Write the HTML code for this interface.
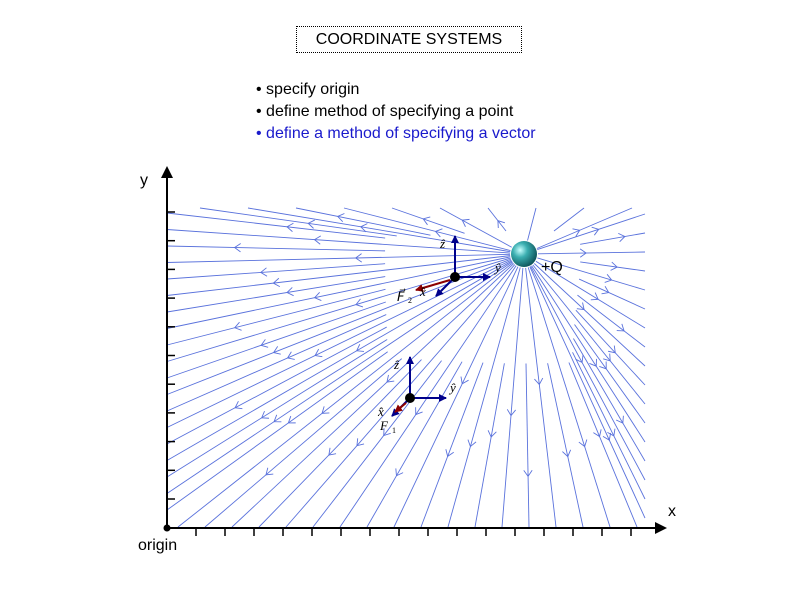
<!DOCTYPE html>
<html><head><style>
body{margin:0;width:800px;height:600px;background:#fff;overflow:hidden;font-family:"Liberation Sans",sans-serif;}
.t{position:absolute;left:296px;top:26px;width:224px;height:25px;border:1px dotted #000;font-size:16px;text-align:center;line-height:25px;}
.b{position:absolute;left:256px;font-size:16px;line-height:22px;}
</style></head><body>
<div class="t">COORDINATE SYSTEMS</div>
<div class="b" style="top:79px">• specify origin<br>• define method of specifying a point<br><span style="color:#1a1acc">• define a method of specifying a vector</span></div>
<svg id="s" width="800" height="600" style="position:absolute;left:0;top:0">
<defs><radialGradient id="g" cx="0.35" cy="0.35" r="0.7"><stop offset="0" stop-color="#c8ffff"/><stop offset="0.4" stop-color="#3aaeb0"/><stop offset="1" stop-color="#0d5258"/></radialGradient>
<marker id="a" markerWidth="8" markerHeight="8" refX="7" refY="4" orient="auto" markerUnits="userSpaceOnUse"><path d="M0,0L8,4L0,8z" fill="#00008b"/></marker>
<marker id="r" markerWidth="8" markerHeight="8" refX="7" refY="4" orient="auto" markerUnits="userSpaceOnUse"><path d="M0,0L8,4L0,8z" fill="#8b0000"/></marker>
<marker id="k" markerWidth="12" markerHeight="12" refX="10" refY="6" orient="auto" markerUnits="userSpaceOnUse"><path d="M0,0L12,6L0,12z" fill="#000"/></marker></defs>
<g id="f" stroke="#5a72dc" stroke-width="0.9" fill="none"></g>
<g stroke="#000" stroke-width="2" fill="none">
<line x1="167" y1="528" x2="167" y2="168" marker-end="url(#k)"/>
<line x1="167" y1="528" x2="665" y2="528" marker-end="url(#k)"/>
</g>
<g id="tk" stroke="#000" stroke-width="1.5"></g>
<circle cx="167" cy="528" r="3.5" fill="#000"/>
<text x="140" y="185" font-size="16" font-family="Liberation Sans">y</text>
<text x="668" y="516" font-size="16" font-family="Liberation Sans">x</text>
<text x="138" y="550" font-size="16" font-family="Liberation Sans">origin</text>
<circle cx="524" cy="254" r="13" fill="url(#g)"/>
<text x="541" y="272" font-size="16" font-family="Liberation Sans">+Q</text>
<g stroke="#00008b" stroke-width="2" fill="none">
<line x1="455" y1="277" x2="455" y2="236" marker-end="url(#a)"/>
<line x1="455" y1="277" x2="490" y2="277" marker-end="url(#a)"/>
<line x1="455" y1="277" x2="436" y2="296" marker-end="url(#a)"/>
<line x1="410" y1="398" x2="410" y2="357" marker-end="url(#a)"/>
<line x1="410" y1="398" x2="446" y2="398" marker-end="url(#a)"/>
<line x1="410" y1="398" x2="392" y2="416" marker-end="url(#a)"/>
</g>
<g stroke="#8b0000" stroke-width="2"><line x1="450" y1="280" x2="416" y2="290" marker-end="url(#r)"/><line x1="406" y1="403" x2="395" y2="412" marker-end="url(#r)"/></g>
<circle cx="455" cy="277" r="5" fill="#000"/><circle cx="410" cy="398" r="5" fill="#000"/>
<g font-family="Liberation Serif" font-style="italic" font-size="13">
<text x="440" y="248">ẑ</text><text x="495" y="272">ŷ</text><text x="420" y="296">x̂</text><text x="397" y="301">F⃗</text><text x="408" y="303" font-size="8" font-style="normal">2</text>
<text x="394" y="369">ẑ</text><text x="450" y="392">ŷ</text><text x="378" y="416">x̂</text><text x="380" y="430">F</text><text x="392" y="433" font-size="8" font-style="normal">1</text></g>
</svg>
<script>
var f=document.getElementById('f'),ns='http://www.w3.org/2000/svg';
var cx=524,cy=254,L=167,R=645,T=208,B=527,pts=[];
for(var y=213;y<=520;y+=16.5)pts.push([L,y]);
for(var x=178;x<=640;x+=27)pts.push([x,B]);
for(var y=214;y<=520;y+=19)pts.push([R,y]);
for(var x=200;x<=640;x+=48)pts.push([x,T]);
function add(d){var p=document.createElementNS(ns,'path');p.setAttribute('d',d);f.appendChild(p);}
pts.forEach(function(q,i){var dx=q[0]-cx,dy=q[1]-cy,t=Math.sqrt(dx*dx+dy*dy);dx/=t;dy/=t;
var st=(i%2)?14:Math.min(14+t*0.35,t*0.5);
add('M'+(cx+dx*st)+','+(cy+dy*st)+'L'+q[0]+','+q[1]);
var ms=[st+(t-st)*(0.45+(i%3)*0.12)];
ms.forEach(function(m){if(m<t-15){var px=cx+dx*m,py=cy+dy*m,s=6,bx=px-dx*s,by=py-dy*s;
add('M'+(bx-dy*s*0.7)+','+(by+dx*s*0.7)+'L'+px+','+py+'L'+(bx+dy*s*0.7)+','+(by-dx*s*0.7));}});});
var tk=document.getElementById('tk');
for(var y=499;y>200;y-=28.7){var l=document.createElementNS(ns,'line');l.setAttribute('x1',167);l.setAttribute('x2',175);l.setAttribute('y1',y);l.setAttribute('y2',y);tk.appendChild(l);}
for(var x=196;x<660;x+=29){var l=document.createElementNS(ns,'line');l.setAttribute('y1',528);l.setAttribute('y2',536);l.setAttribute('x1',x);l.setAttribute('x2',x);tk.appendChild(l);}
</script>
</body></html>
